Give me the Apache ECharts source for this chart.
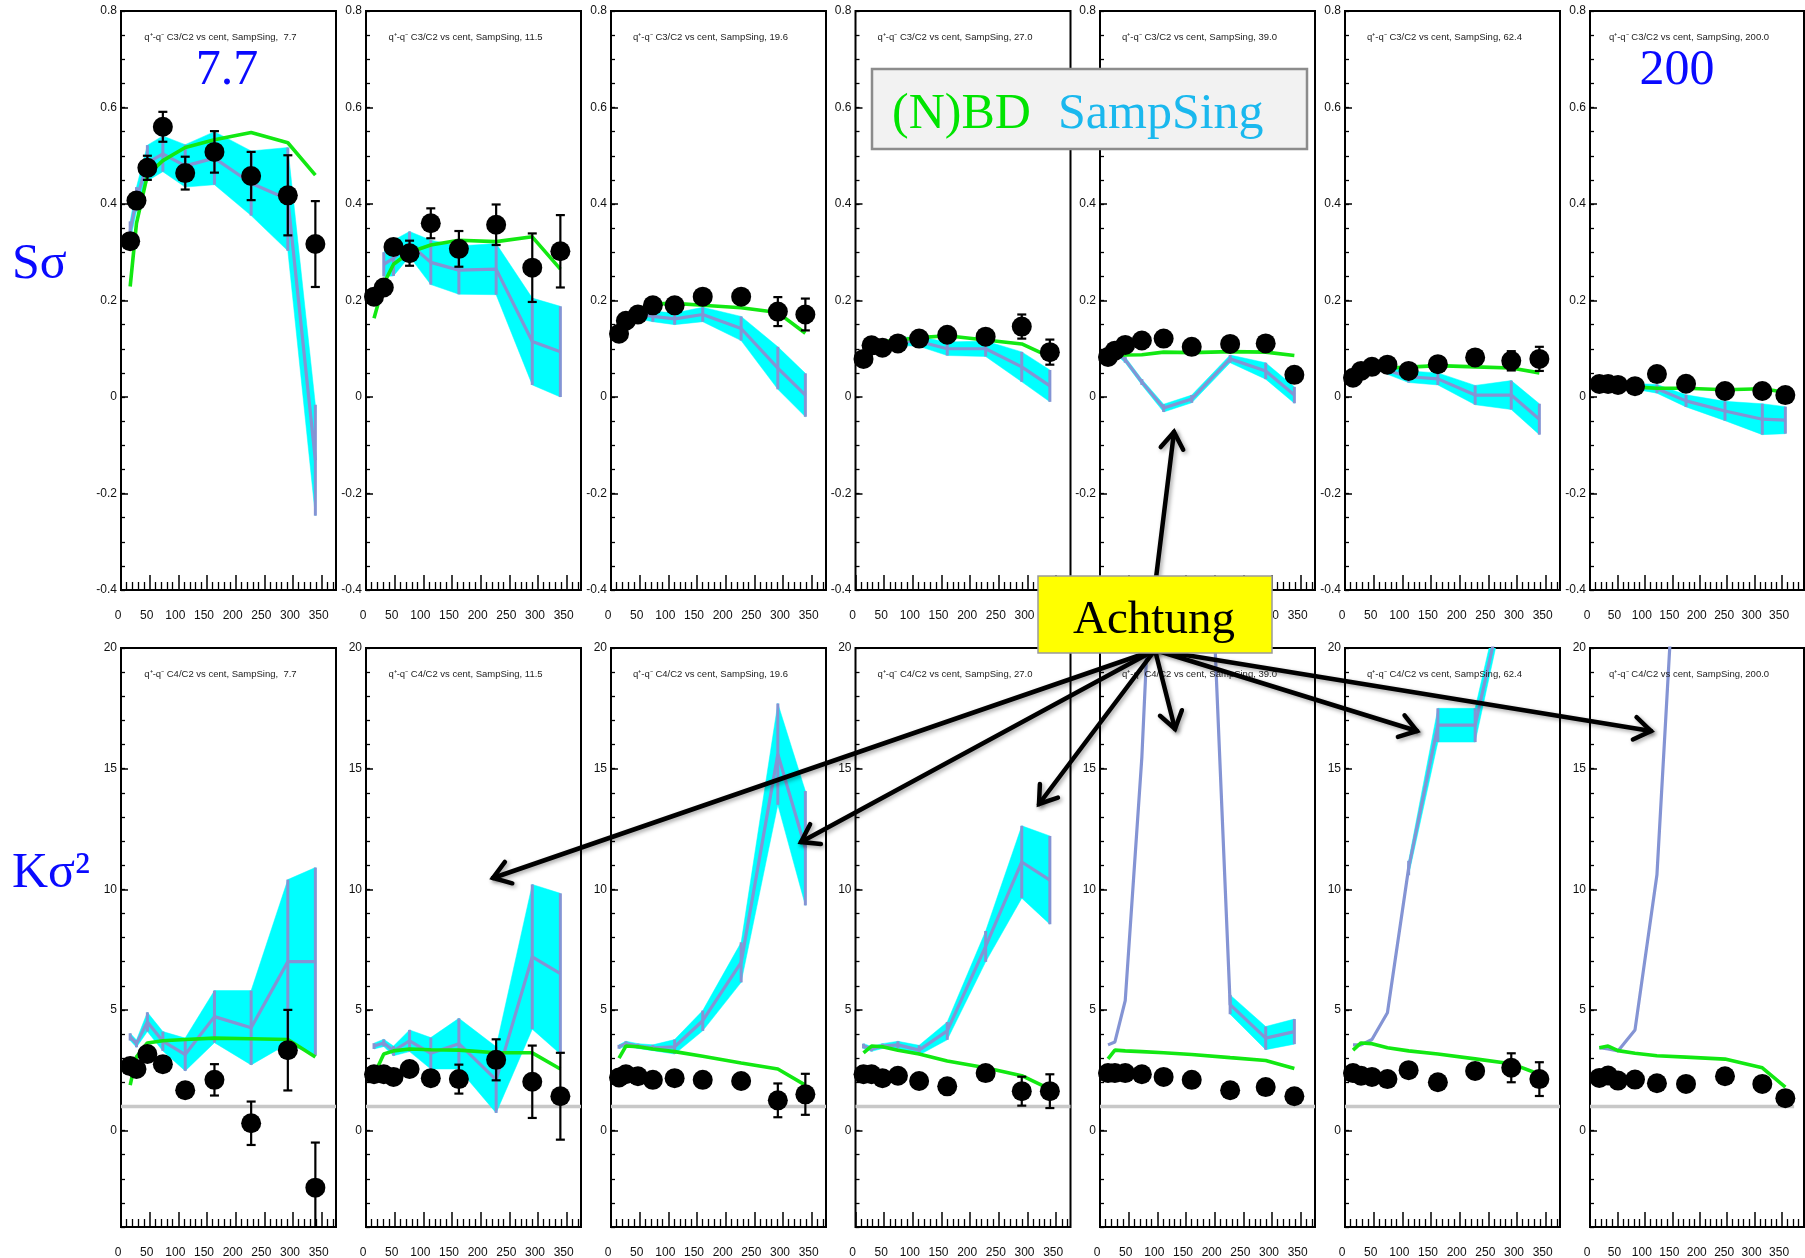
<!DOCTYPE html>
<html><head><meta charset="utf-8">
<script src="https://cdn.jsdelivr.net/npm/echarts@6/dist/echarts.min.js"></script>
<style>html,body{margin:0;padding:0;background:#fff;}#c{width:1805px;height:1258px;}</style>
</head><body><div id="c"></div>
<script>
// ---------------- DATA ----------------
const energies = ['7.7', '11.5', '19.6', '27.0', '39.0', '62.4', '200.0'];
const titleEnergy = [' 7.7', '11.5', '19.6', '27.0', '39.0', '62.4', '200.0'];
const xTickLabels = [0, 50, 100, 150, 200, 250, 300, 350];
const sTickLabels = [-0.4, -0.2, 0, 0.2, 0.4, 0.6, 0.8];
const kTickLabels = [0, 5, 10, 15, 20];

// centrality (Npart) positions per energy
const npart = [
  [16, 27, 46, 73, 112, 163, 227, 291, 339],
  [14, 31, 48, 76, 113, 162, 227, 290, 339],
  [14, 26, 47, 73, 111, 160, 227, 291, 339],
  [14, 28, 47, 74, 111, 160, 227, 290, 339],
  [14, 26, 44, 73, 111, 160, 227, 289, 339],
  [14, 28, 47, 74, 111, 162, 227, 290, 339],
  [17, 33, 51, 82, 122, 175, 246, 314, 356]
];

// S sigma (C3/C2): data points
const sDot = [
  [0.323, 0.407, 0.475, 0.56, 0.464, 0.508, 0.458, 0.418, 0.317],
  [0.208, 0.227, 0.311, 0.298, 0.36, 0.307, 0.357, 0.268, 0.302],
  [0.131, 0.158, 0.171, 0.19, 0.19, 0.208, 0.208, 0.177, 0.171],
  [0.079, 0.107, 0.102, 0.111, 0.121, 0.129, 0.125, 0.146, 0.093],
  [0.083, 0.096, 0.108, 0.117, 0.121, 0.104, 0.11, 0.111, 0.046],
  [0.04, 0.054, 0.0625, 0.067, 0.054, 0.068, 0.082, 0.075, 0.079],
  [0.027, 0.027, 0.025, 0.0225, 0.0475, 0.0275, 0.0125, 0.0125, 0.004]
];
const sDotErr = [
  [0, 0, 0.025, 0.031, 0.034, 0.043, 0.05, 0.083, 0.089],
  [0, 0, 0, 0.026, 0.031, 0.037, 0.042, 0.071, 0.075],
  [0, 0, 0, 0, 0, 0, 0, 0.03, 0.033],
  [0, 0, 0, 0, 0, 0, 0, 0.025, 0.026],
  [0, 0, 0, 0, 0, 0, 0, 0, 0],
  [0, 0, 0, 0, 0, 0, 0, 0.02, 0.025],
  [0, 0, 0, 0, 0, 0, 0, 0, 0]
];
// (N)BD baseline (green)
const sNBD = [
  [0.229, 0.36, 0.46, 0.49, 0.517, 0.533, 0.548, 0.527, 0.46],
  [0.163, 0.235, 0.275, 0.30, 0.315, 0.325, 0.322, 0.332, 0.265],
  [0.14, 0.16, 0.18, 0.193, 0.194, 0.19, 0.185, 0.175, 0.132],
  [0.09, 0.11, 0.115, 0.118, 0.123, 0.127, 0.118, 0.11, 0.083],
  [0.082, 0.086, 0.087, 0.0875, 0.093, 0.092, 0.094, 0.093, 0.086],
  [0.045, 0.055, 0.06, 0.06, 0.062, 0.065, 0.0625, 0.06, 0.05],
  [0.025, 0.024, 0.023, 0.021, 0.018, 0.018, 0.015, 0.017, 0.01]
];
// SampSing (cyan band, purple line)
const sSamp = [
  [0.344, 0.41, 0.485, 0.504, 0.479, 0.495, 0.443, 0.41, -0.131],
  [null, 0.275, 0.288, 0.317, 0.279, 0.263, 0.265, 0.115, 0.094],
  [null, null, 0.172, 0.167, 0.162, 0.171, 0.142, 0.06, 0.004],
  [null, null, null, 0.115, 0.115, 0.10, 0.10, 0.0625, 0.023],
  [null, 0.095, 0.077, 0.031, -0.023, -0.004, 0.079, 0.054, 0.004],
  [null, null, null, 0.055, 0.042, 0.0375, 0.004, 0.004, -0.046],
  [null, null, null, 0.022, 0.017, -0.008, -0.029, -0.046, -0.048]
];
const sSampErr = [
  [0.02, 0.025, 0.037, 0.037, 0.044, 0.055, 0.067, 0.107, 0.115],
  [null, 0.025, 0.037, 0.026, 0.046, 0.05, 0.053, 0.09, 0.094],
  [null, null, 0.01, 0.011, 0.012, 0.015, 0.025, 0.044, 0.045],
  [null, null, null, 0.008, 0.01, 0.014, 0.016, 0.031, 0.033],
  [null, 0.005, 0.006, 0.006, 0.008, 0.008, 0.008, 0.017, 0.017],
  [null, null, null, 0.008, 0.012, 0.0125, 0.02, 0.03, 0.032],
  [null, null, null, 0.006, 0.009, 0.0125, 0.02, 0.032, 0.028]
];

// K sigma^2 (C4/C2)
const kDot = [
  [2.67, 2.55, 3.17, 2.75, 1.67, 2.1, 0.3, 3.33, -2.37],
  [2.33, 2.33, 2.22, 2.55, 2.17, 2.13, 2.93, 2.02, 1.42],
  [2.2, 2.33, 2.25, 2.1, 2.17, 2.1, 2.05, 1.25, 1.5],
  [2.33, 2.33, 2.17, 2.27, 2.05, 1.83, 2.38, 1.63, 1.63],
  [2.38, 2.38, 2.38, 2.33, 2.22, 2.1, 1.67, 1.8, 1.42],
  [2.38, 2.27, 2.22, 2.13, 2.5, 2.0, 2.47, 2.6, 2.13],
  [2.18, 2.28, 2.07, 2.11, 1.96, 1.93, 2.25, 1.93, 1.34]
];
const kDotErr = [
  [0, 0, 0, 0, 0, 0.65, 0.9, 1.67, 1.87],
  [0, 0, 0, 0, 0, 0.6, 0.85, 1.5, 1.8],
  [0, 0, 0, 0, 0, 0, 0, 0.7, 0.85],
  [0, 0, 0, 0, 0, 0, 0, 0.6, 0.7],
  [0, 0, 0, 0, 0, 0, 0, 0, 0],
  [0, 0, 0, 0, 0, 0, 0, 0.6, 0.7],
  [0, 0, 0, 0, 0, 0, 0, 0, 0]
];
const kNBD = [
  [1.88, 3.05, 3.63, 3.72, 3.77, 3.83, 3.8, 3.77, 3.05],
  [2.3, 3.17, 3.3, 3.38, 3.35, 3.33, 3.22, 3.22, 2.55],
  [3.0, 3.5, 3.47, 3.38, 3.27, 3.08, 2.8, 2.55, 1.88],
  [3.22, 3.5, 3.47, 3.33, 3.17, 2.88, 2.6, 2.27, 1.72],
  [2.97, 3.33, 3.3, 3.27, 3.22, 3.15, 3.02, 2.9, 2.57],
  [3.33, 3.63, 3.6, 3.43, 3.3, 3.17, 2.97, 2.77, 2.33],
  [3.43, 3.5, 3.31, 3.2, 3.1, 3.04, 2.96, 2.6, 1.8]
];
const kSamp = [
  [3.88, 3.6, 4.5, 3.7, 3.15, 4.72, 4.26, 7.0, 7.0],
  [3.5, 3.63, 3.3, 3.72, 3.2, 3.6, 2.1, 7.2, 6.5],
  [3.47, 3.6, 3.5, 3.43, 3.47, 4.55, 6.97, 15.6, 11.7],
  [3.5, 3.38, 3.5, 3.55, 3.33, 4.13, 7.63, 11.13, 10.38],
  [3.55, 3.67, 5.38, 15.47, 35, 43, 5.22, 3.83, 4.1],
  [3.55, 3.55, 3.77, 4.88, 10.88, 16.8, 16.8, 23.5, null],
  [3.43, 3.38, 3.3, 4.17, 10.6, 32, null, null, null]
];
const kSampErr = [
  [0.15, 0.15, 0.4, 0.4, 0.68, 1.08, 1.54, 3.4, 3.9],
  [0.12, 0.15, 0.2, 0.45, 0.65, 1.05, 1.37, 3.0, 3.33],
  [0.08, 0.1, 0.1, 0.12, 0.3, 0.42, 0.83, 2.1, 2.37],
  [0.1, 0.1, 0.1, 0.15, 0.2, 0.37, 0.64, 1.5, 1.83],
  [null, null, null, null, null, null, 0.4, 0.48, 0.52],
  [null, null, null, null, 0.3, 0.7, 0.7, 0.5, null],
  [null, null, null, null, null, null, null, null, null]
];
const unityLine = 1;

// ---------------- LAYOUT / STYLE ----------------
const colLeft = [121, 366, 611, 855.5, 1100, 1345, 1590];
const colWidth = [215, 215, 215, 215, 215, 215, 214];
const xMax = [375, 375, 375, 375, 375, 375, 390];
const grayEnd = [375, 375, 375, 375, 375, 375, 372];
const rowTop = [11, 648];
const rowH = 579;
const CYAN = '#00ffff', PURPLE = '#8494d4', GREEN = '#12e812';
const SANS = '"Liberation Sans", Arial, Helvetica, sans-serif';
const SERIF = '"Liberation Serif", "Times New Roman", serif';

const xMinor = []; for (let v = 10; v <= 380; v += 10) if (v % 50) xMinor.push(v);
const sMinor = []; for (let i = -8; i <= 16; i++) sMinor.push(Math.round(i * 5) / 100);
const kMinor = []; for (let v = -4; v <= 20; v++) kMinor.push(v);

function bandRender(params, api) {
  const a = api.coord([api.value(0), api.value(1)]);
  const b = api.coord([api.value(0), api.value(2)]);
  const c = api.coord([api.value(3), api.value(5)]);
  const d = api.coord([api.value(3), api.value(4)]);
  return { type: 'polygon', shape: { points: [a, b, c, d] }, style: { fill: CYAN, stroke: CYAN, lineWidth: 0.5 } };
}
function barRender(color, width, cap) {
  return function (params, api) {
    const x = api.value(0);
    const lo = api.coord([x, api.value(1)]);
    const hi = api.coord([x, api.value(2)]);
    const ch = [{ type: 'line', shape: { x1: lo[0], y1: lo[1], x2: hi[0], y2: hi[1] }, style: { stroke: color, lineWidth: width } }];
    if (cap) {
      ch.push({ type: 'line', shape: { x1: lo[0] - cap, y1: lo[1], x2: lo[0] + cap, y2: lo[1] }, style: { stroke: color, lineWidth: width } });
      ch.push({ type: 'line', shape: { x1: hi[0] - cap, y1: hi[1], x2: hi[0] + cap, y2: hi[1] }, style: { stroke: color, lineWidth: width } });
    }
    return { type: 'group', children: ch };
  };
}

const grids = [], xAxes = [], yAxes = [], series = [], graphics = [];
let g = 0;
for (let r = 0; r < 2; r++) {
  for (let c = 0; c < 7; c++) {
    const xs = npart[c];
    const dots = r ? kDot[c] : sDot[c];
    const dErr = r ? kDotErr[c] : sDotErr[c];
    const nbd = r ? kNBD[c] : sNBD[c];
    const samp = r ? kSamp[c] : sSamp[c];
    const sErr = r ? kSampErr[c] : sSampErr[c];

    grids.push({ left: colLeft[c], top: rowTop[r], width: colWidth[c], height: rowH, show: true,
      borderColor: '#000', borderWidth: 2, backgroundColor: 'transparent', containLabel: false, outerBoundsMode: 'none' });

    const xBase = { gridIndex: g, type: 'value', position: 'bottom', min: 0, max: xMax[c],
      axisLine: { show: false, onZero: false }, splitLine: { show: false }, minorTick: { show: false } };
    xAxes.push(Object.assign({}, xBase, {
      axisTick: { show: true, inside: true, length: 15, customValues: xTickLabels, lineStyle: { color: '#000', width: 1.5 } },
      axisLabel: { show: true, customValues: xTickLabels, margin: 20, fontSize: 12, color: '#111', fontFamily: SANS, padding: [0, 6, 0, 0] }
    }));
    xAxes.push(Object.assign({}, xBase, {
      axisTick: { show: true, inside: true, length: 8, customValues: xMinor, lineStyle: { color: '#000', width: 1.3 } },
      axisLabel: { show: false }
    }));
    const yMin = r ? -4 : -0.4, yMaxV = r ? 20 : 0.8;
    const yBase = { gridIndex: g, type: 'value', position: 'left', min: yMin, max: yMaxV,
      axisLine: { show: false, onZero: false }, splitLine: { show: false }, minorTick: { show: false } };
    const yLab = r ? kTickLabels : sTickLabels;
    yAxes.push(Object.assign({}, yBase, {
      axisTick: { show: true, inside: true, length: 7, customValues: yLab, lineStyle: { color: '#000', width: 1.5 } },
      axisLabel: { show: true, customValues: yLab, margin: 4, fontSize: 12, color: '#111', fontFamily: SANS }
    }));
    yAxes.push(Object.assign({}, yBase, {
      axisTick: { show: true, inside: true, length: 4, customValues: r ? kMinor : sMinor, lineStyle: { color: '#000', width: 1.3 } },
      axisLabel: { show: false }
    }));

    const xi = 2 * g, yi = 2 * g;
    // band segments
    const bandData = [];
    for (let i = 0; i < xs.length - 1; i++) {
      if (samp[i] != null && samp[i + 1] != null && sErr[i] != null && sErr[i + 1] != null) {
        bandData.push([xs[i], samp[i] - sErr[i], samp[i] + sErr[i], xs[i + 1], samp[i + 1] - sErr[i + 1], samp[i + 1] + sErr[i + 1]]);
      }
    }
    series.push({ type: 'custom', xAxisIndex: xi, yAxisIndex: yi, renderItem: bandRender, data: bandData, clip: true, z: 2, silent: true });
    // purple vertical bars
    const pbar = [];
    xs.forEach((x, i) => { if (samp[i] != null && sErr[i] != null) pbar.push([x, samp[i] - sErr[i], samp[i] + sErr[i]]); });
    series.push({ type: 'custom', xAxisIndex: xi, yAxisIndex: yi, renderItem: barRender(PURPLE, 3, 0), data: pbar, clip: true, z: 3, silent: true });
    // purple line
    const pline = [];
    xs.forEach((x, i) => { if (samp[i] != null) pline.push([x, samp[i]]); });
    series.push({ type: 'line', xAxisIndex: xi, yAxisIndex: yi, data: pline, showSymbol: false, clip: true, z: 3, silent: true,
      lineStyle: { color: PURPLE, width: 3.2 } });
    // unity line (bottom row)
    if (r) {
      series.push({ type: 'line', xAxisIndex: xi, yAxisIndex: yi, data: [[0, unityLine], [grayEnd[c], unityLine]], showSymbol: false, z: 1, silent: true,
        lineStyle: { color: '#c8c8c8', width: 3.5 } });
    }
    // green (N)BD line
    series.push({ type: 'line', xAxisIndex: xi, yAxisIndex: yi, data: xs.map((x, i) => [x, nbd[i]]), showSymbol: false, clip: true, z: 4, silent: true,
      lineStyle: { color: GREEN, width: 3.6 } });
    // error bars
    const eb = [];
    xs.forEach((x, i) => { if (dErr[i] > 0) eb.push([x, dots[i] - dErr[i], dots[i] + dErr[i]]); });
    series.push({ type: 'custom', xAxisIndex: xi, yAxisIndex: yi, renderItem: barRender('#000', 2.2, 4.5), data: eb, clip: true, z: 5, silent: true });
    // dots
    series.push({ type: 'scatter', xAxisIndex: xi, yAxisIndex: yi, data: xs.map((x, i) => [x, dots[i]]), symbol: 'circle', symbolSize: 20,
      itemStyle: { color: '#000', opacity: 1, borderWidth: 0 }, z: 6, silent: true });

    // panel title
    graphics.push({ type: 'text', z: 50, silent: true, style: {
      text: 'q\u207A-q\u207B ' + (r ? 'C4/C2' : 'C3/C2') + ' vs cent, SampSing, ' + titleEnergy[c],
      x: colLeft[c] + colWidth[c] / 2 - 8, y: rowTop[r] + 26, font: '9.5px ' + SANS, fill: '#222',
      align: 'center', textAlign: 'center', verticalAlign: 'middle', textVerticalAlign: 'middle' } });
    g++;
  }
}

// ---------------- ANNOTATIONS ----------------
function txt(text, x, y, size, color, align) {
  return { type: 'text', z: 120, silent: true, style: { text: text, x: x, y: y, font: size + 'px ' + SERIF, fill: color,
    align: align, textAlign: align, verticalAlign: 'middle', textVerticalAlign: 'middle' } };
}
graphics.push(txt('S\u03C3', 12, 265, 50, '#0a0aff', 'left'));
graphics.push(txt('K\u03C3\u00B2', 12, 874, 50, '#0a0aff', 'left'));
graphics.push(txt('7.7', 227, 71, 50, '#0a0aff', 'center'));
graphics.push(txt('200', 1677, 71, 50, '#0a0aff', 'center'));

// legend box
graphics.push({ type: 'rect', z: 110, silent: true, shape: { x: 872, y: 69, width: 435, height: 80 },
  style: { fill: '#f2f2f2', stroke: '#8c8c8c', lineWidth: 2.5 } });
graphics.push(txt('(N)BD', 892, 115, 50, '#00e400', 'left'));
graphics.push(txt('SampSing', 1058, 115, 50, '#1ab8ee', 'left'));

// arrows
function arrow(x0, y0, x1, y1) {
  const ang = Math.atan2(y1 - y0, x1 - x0), L = 20, a = 0.6;
  const h1 = [x1 - L * Math.cos(ang - a), y1 - L * Math.sin(ang - a)];
  const h2 = [x1 - L * Math.cos(ang + a), y1 - L * Math.sin(ang + a)];
  const st = { stroke: '#000', lineWidth: 4.5, fill: null, lineCap: 'round', lineJoin: 'miter',
    shadowBlur: 4, shadowColor: 'rgba(0,0,0,0.35)', shadowOffsetX: 2, shadowOffsetY: 2 };
  return [
    { type: 'line', z: 100, silent: true, shape: { x1: x0, y1: y0, x2: x1, y2: y1 }, style: Object.assign({}, st) },
    { type: 'polyline', z: 100, silent: true, shape: { points: [h1, [x1, y1], h2] }, style: Object.assign({}, st) }
  ];
}
const arrowTips = [[493, 878], [801, 842], [1039, 804], [1175, 729], [1417, 731], [1651, 731]];
graphics.push(...arrow(1156, 578, 1174, 432));
arrowTips.forEach(t => graphics.push(...arrow(1155, 650, t[0], t[1])));

// Achtung box
graphics.push({ type: 'rect', z: 110, silent: true, shape: { x: 1038, y: 576, width: 234, height: 77 },
  style: { fill: '#ffff00', stroke: '#9a9a9a', lineWidth: 1.5 } });
graphics.push(txt('Achtung', 1154, 621, 47, '#000', 'center'));

const chart = echarts.init(document.getElementById('c'), null, { renderer: 'canvas' });
chart.setOption({
  animation: false,
  backgroundColor: '#fff',
  grid: grids,
  xAxis: xAxes,
  yAxis: yAxes,
  series: series,
  graphic: { elements: graphics }
});
</script>
</body></html>
